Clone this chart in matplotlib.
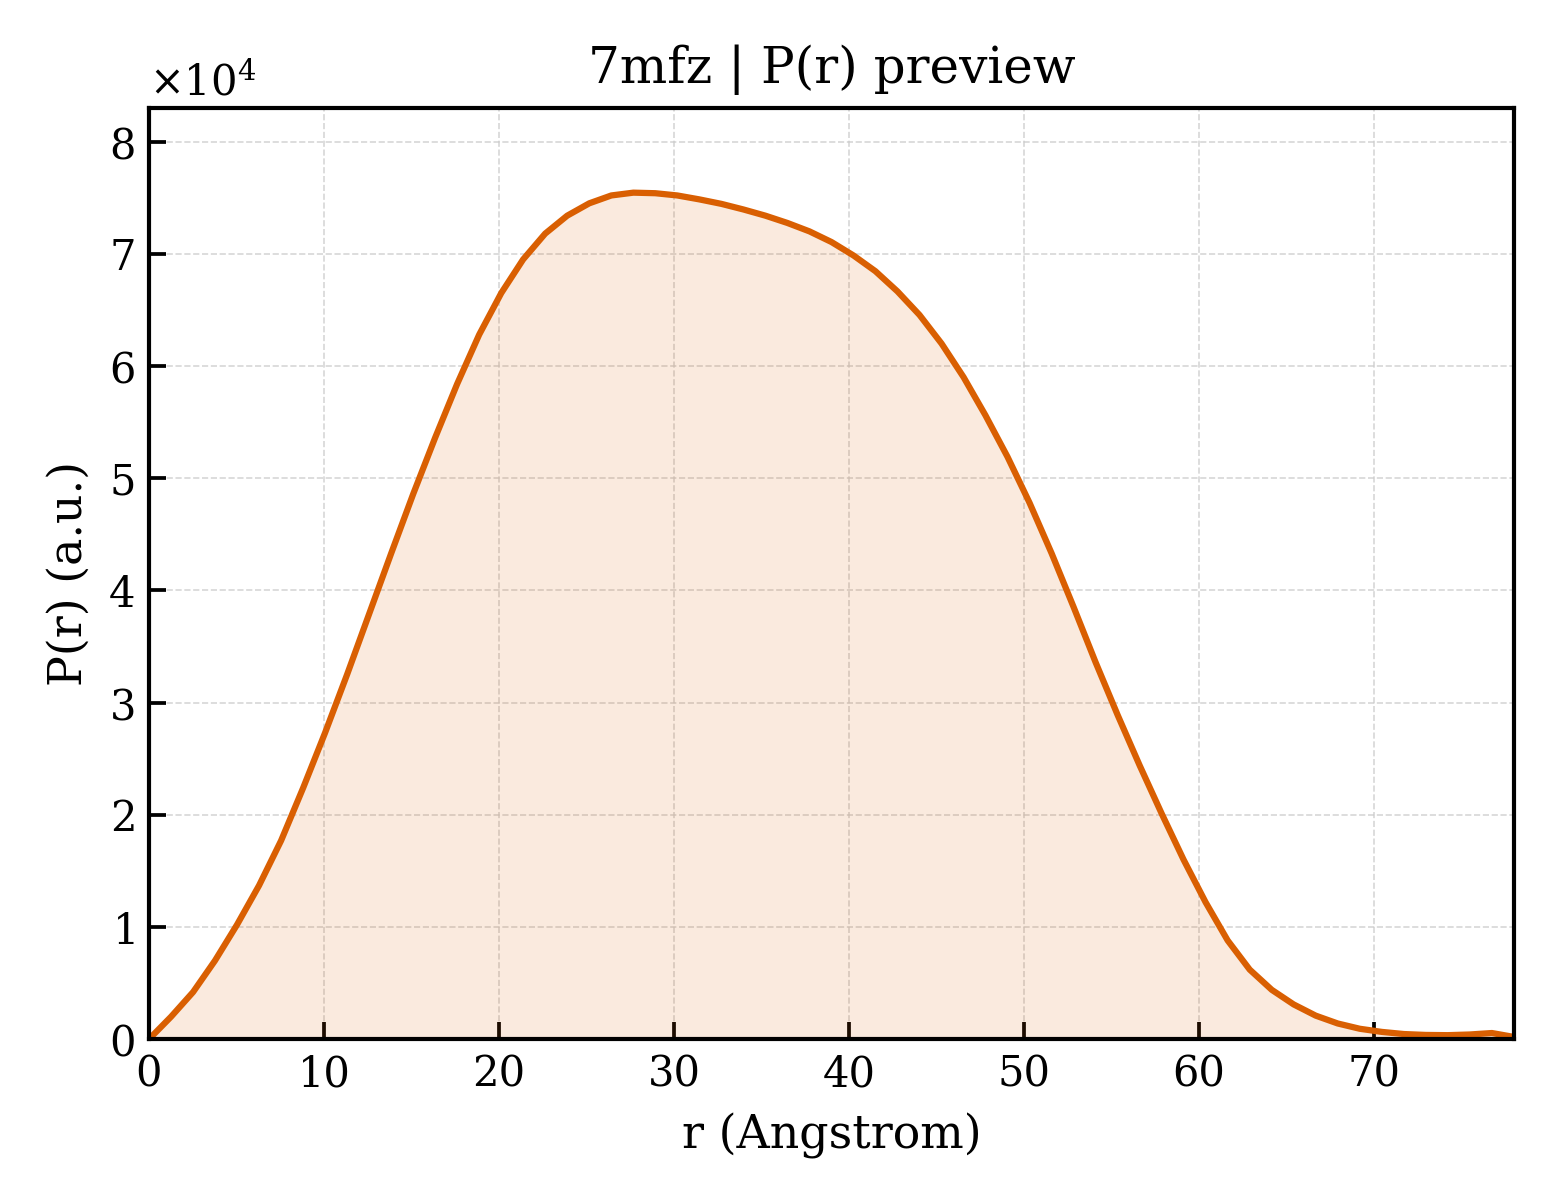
import matplotlib
matplotlib.use("Agg")
import matplotlib.pyplot as plt

# P(r) readout, r in Angstrom, P in a.u.
r_vals = [0.00, 1.26, 2.52, 3.77, 5.03, 6.29, 7.55, 8.81, 10.06, 11.32,
          12.58, 13.84, 15.10, 16.35, 17.61, 18.87, 20.13, 21.38, 22.64, 23.90,
          25.16, 26.42, 27.68, 28.93, 30.19, 31.45, 32.71, 33.97, 35.22, 36.48,
          37.74, 39.00, 40.26, 41.51, 42.77, 44.03, 45.29, 46.55, 47.80, 49.06,
          50.32, 51.58, 52.84, 54.09, 55.35, 56.61, 57.87, 59.12, 60.38, 61.64,
          62.90, 64.16, 65.41, 66.67, 67.93, 69.19, 70.45, 71.71, 72.96, 74.22,
          75.48, 76.74, 78.00]
pr_vals = [0, 2000, 4200, 7000, 10200, 13700, 17700, 22400, 27300, 32500,
           37900, 43300, 48600, 53600, 58400, 62800, 66500, 69500, 71800, 73400,
           74500, 75200, 75450, 75400, 75200, 74850, 74450, 73950, 73400, 72750,
           72000, 71050, 69850, 68450, 66650, 64550, 62000, 59000, 55600, 51900,
           47800, 43300, 38500, 33600, 28900, 24400, 20100, 16000, 12200, 8800,
           6200, 4400, 3100, 2100, 1400, 930, 650, 460, 380, 360,
           420, 550, 200]

line_color = "#D95F02"

plt.rcParams["font.family"] = "DejaVu Serif"
plt.rcParams["mathtext.fontset"] = "dejavuserif"

fig = plt.figure(figsize=(5.2, 4), dpi=300)
ax = fig.add_axes([0.0955, 0.134, 0.875, 0.776])

ax.fill_between(r_vals, pr_vals, 0, color=line_color, alpha=0.13, linewidth=0)
ax.plot(r_vals, pr_vals, color=line_color, linewidth=1.5)

ax.set_xlim(0, 78)
ax.set_ylim(0, max(pr_vals) * 1.1)
ax.set_xticks([0, 10, 20, 30, 40, 50, 60, 70])
ax.set_yticks([0, 10000, 20000, 30000, 40000, 50000, 60000, 70000, 80000])
ax.ticklabel_format(axis="y", style="sci", scilimits=(0, 0), useMathText=True)
ax.yaxis.get_offset_text().set_fontsize(10)

ax.tick_params(direction="in", length=4, width=0.9, labelsize=10)
for sp in ax.spines.values():
    sp.set_linewidth(1.0)

ax.grid(True, linestyle="--", linewidth=0.4, color="#cccccc", alpha=0.8)
ax.set_axisbelow(True)

ax.set_xlabel("r (Angstrom)", fontsize=11)
ax.set_ylabel("P(r) (a.u.)", fontsize=11)
ax.set_title("7mfz | P(r) preview", fontsize=12)

fig.savefig("out.png", dpi=300)
